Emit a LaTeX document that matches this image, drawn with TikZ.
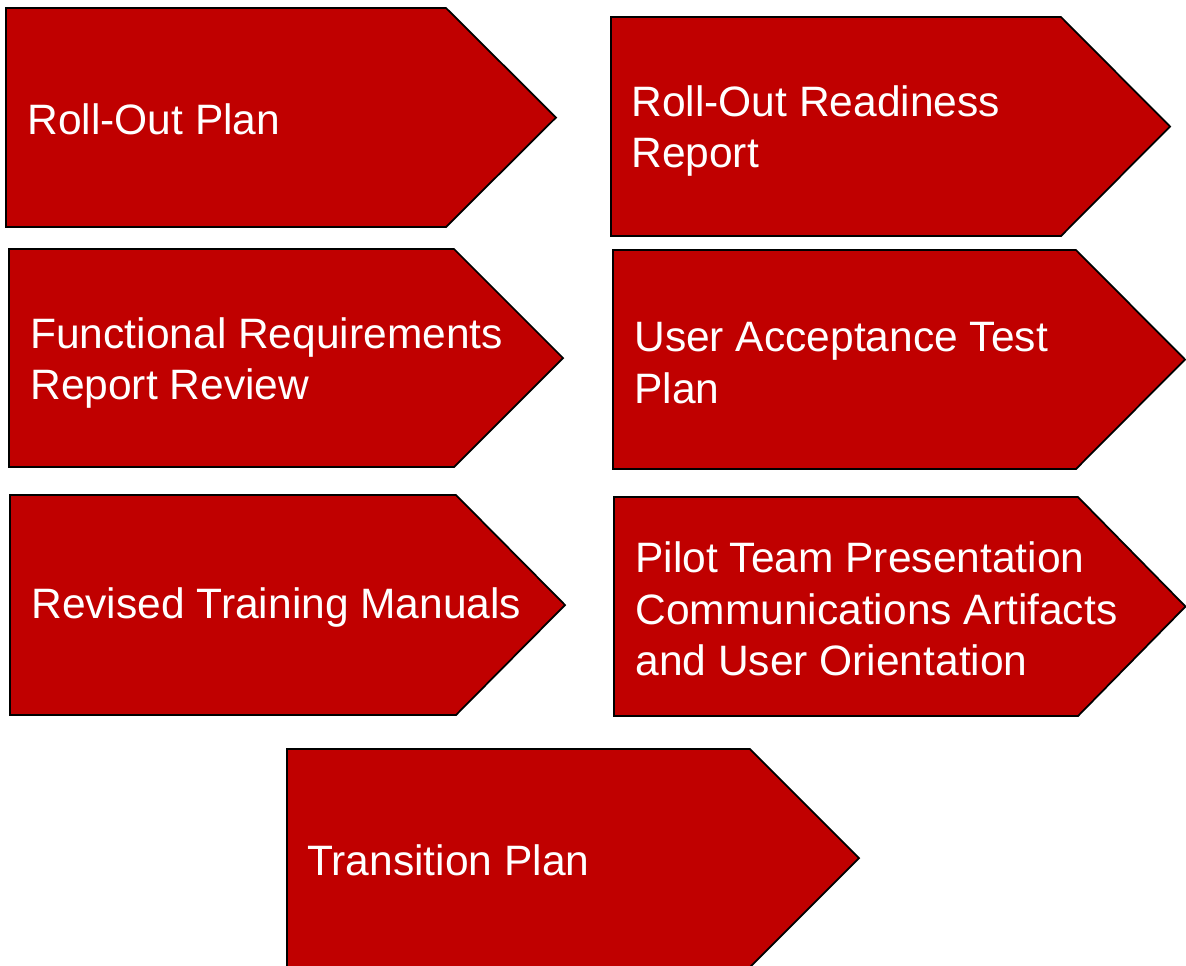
\documentclass[tikz,border=0pt]{standalone}
\usepackage{fontspec}
\setmainfont{Liberation Sans}
\definecolor{arrowred}{HTML}{C00000}
\tikzset{
  arrowshape/.style={fill=arrowred, draw=black, line width=1pt, line join=miter},
  arrowtext/.style={anchor=west, inner sep=0pt, align=left, text=white,
    font=\fontsize{24.2pt}{29.2pt}\selectfont}
}
\begin{document}
\begin{tikzpicture}[x=0.02cm, y=-0.02cm]
\useasboundingbox (0,0) rectangle (1186,965);
% shapes: left, top, bottom, edge, tip
\newcommand{\pent}[5]{%
  \path[arrowshape] (#1,#2) -- (#4,#2) -- (#5,{(#2+#3)/2}) -- (#4,#3) -- (#1,#3) -- cycle;}
\pent{6}{8}{227}{446}{556}
\pent{611}{17}{236}{1061}{1170}
\pent{9}{249}{467}{454}{563}
\pent{613}{250}{469}{1076}{1185}
\pent{10}{495}{715}{456}{565}
\pent{614}{497}{716}{1078}{1185.5}
\pent{287}{749}{967}{750}{859}
\node[arrowtext] (t1) at (27,119) {Roll-Out Plan};
\node[arrowtext] (t2) at (631,131) {Roll-Out Readiness\\Report};
\node[arrowtext] (t3) at (30,363) {Functional Requirements\\Report Review};
\node[arrowtext] (t4) at (634,363) {User Acceptance Test\\Plan};
\node[arrowtext] (t5) at (31,607) {Revised Training Manuals};
\node[arrowtext] (t6) at (635,609) {Pilot Team Presentation\\Communications Artifacts\\and User Orientation};
\node[arrowtext] (t7) at (307,860) {Transition Plan};
\end{tikzpicture}
\end{document}
